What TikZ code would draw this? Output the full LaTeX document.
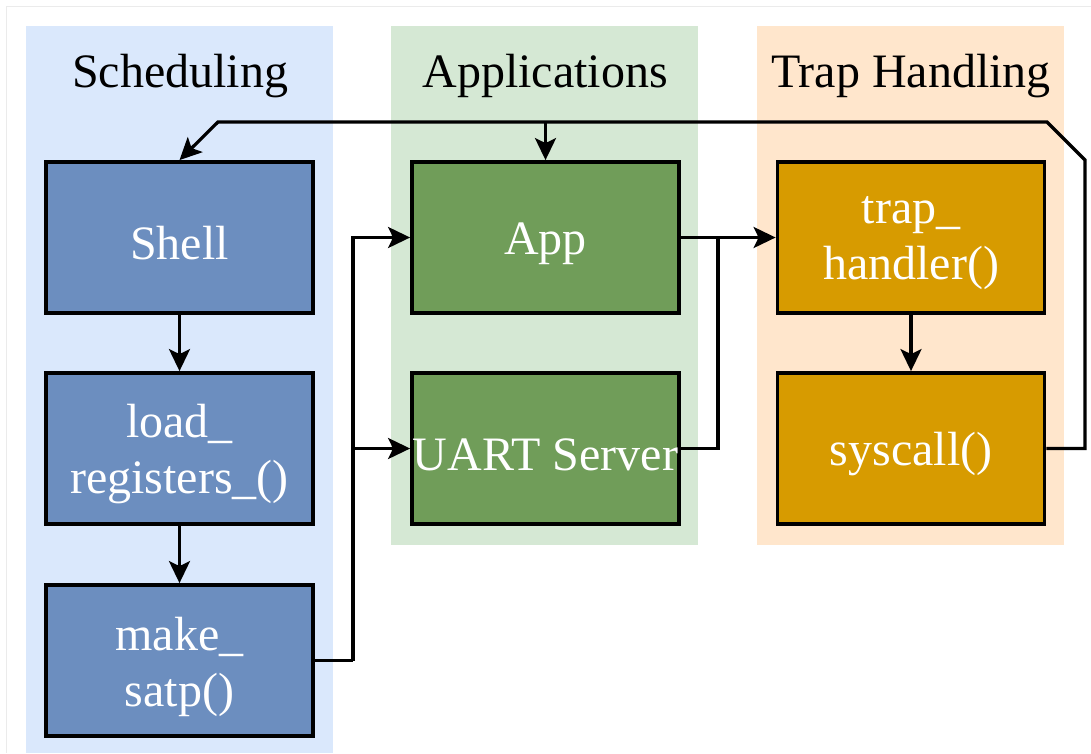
\documentclass[tikz,border=0pt]{standalone}
\usepackage{fontspec}
\setmainfont{Liberation Serif}
\usetikzlibrary{arrows.meta}

\definecolor{schedbg}{HTML}{DAE8FC}
\definecolor{appbg}{HTML}{D5E8D4}
\definecolor{trapbg}{HTML}{FFE6CC}
\definecolor{schedbox}{HTML}{6C8EBF}
\definecolor{appbox}{HTML}{709D59}
\definecolor{trapbox}{HTML}{D79B00}

\tikzset{
  lanetitle/.style={font=\fontsize{48}{55}\selectfont, text=black, inner sep=0pt},
  stepbox/.style={draw=black, line width=3.8pt, minimum width=267pt, minimum height=151pt,
    inner sep=0pt},
  steplabel/.style={inner sep=0pt, align=center, text=white, yshift=-6pt,
    font=\fontsize{48}{56}\selectfont},
  flow/.style={draw=black, line width=3.2pt,
    -{Stealth[length=22pt, width=21pt, inset=5pt]}},
  wire/.style={draw=black, line width=3.2pt}
}

\begin{document}
\begin{tikzpicture}[x=1pt, y=-1pt]
  \useasboundingbox (0,0) rectangle (1091,753);

  % faint page frame
  \draw[black!8, line width=1pt] (6,753) -- (6,6) -- (1091,6);

  % swimlane backgrounds
  \fill[schedbg] (26,26) rectangle (333,753);
  \fill[appbg]   (391,26) rectangle (698,545);
  \fill[trapbg]  (757,26) rectangle (1064,545);

  % lane titles
  \node[lanetitle] (tsched) at (180,76) {Scheduling};
  \node[lanetitle] (tapps)  at (545,76) {Applications};
  \node[lanetitle] (ttrap)  at (911,76) {Trap Handling};

  % scheduling steps
  \node[stepbox, fill=schedbox, label={[steplabel]center:Shell}] (shell) at (179.5,237.5) {};
  \node[stepbox, fill=schedbox, label={[steplabel]center:{load\_\\registers\_()}}] (load) at (179.5,448.5) {};
  \node[stepbox, fill=schedbox, label={[steplabel]center:{make\_\\satp()}}] (make) at (179.5,660.5) {};

  % applications
  \node[stepbox, fill=appbox, label={[steplabel]center:App}] (app) at (545.5,237.5) {};
  \node[stepbox, fill=appbox, label={[steplabel]center:UART Server}] (uart) at (545.5,448.5) {};

  % trap handling
  \node[stepbox, fill=trapbox, label={[steplabel]center:{trap\_\\handler()}}] (trap) at (911,237.5) {};
  \node[stepbox, fill=trapbox, label={[steplabel]center:syscall()}] (syscall) at (911,448.5) {};

  % routing points
  \coordinate (split) at (353,660.5);
  \coordinate (merge) at (718,237.5);
  \coordinate (rdown) at (1085,160);
  \coordinate (rtop)  at (1047,122);
  \coordinate (ltop)  at (218,122);
  \coordinate (atop)  at (545.5,122);

  % scheduling chain
  \draw[flow] (shell) -- (load);
  \draw[flow] (load) -- (make);

  % launch into applications
  \draw[wire] (make.east) -- (split);
  \draw[flow] (split) |- (app.west);
  \draw[flow] (split) |- (uart.west);

  % applications trap into the handler
  \draw[flow] (app.east) -- (trap.west);
  \draw[wire] (uart.east) -| (merge);

  % handler dispatches the syscall
  \draw[flow] (trap) -- (syscall);

  % return path back to shell and app
  \draw[flow] (syscall.east) -| (rdown) -- (rtop) -- (ltop) -- (shell.north);
  \draw[flow] (atop) -- (app.north);
\end{tikzpicture}
\end{document}
